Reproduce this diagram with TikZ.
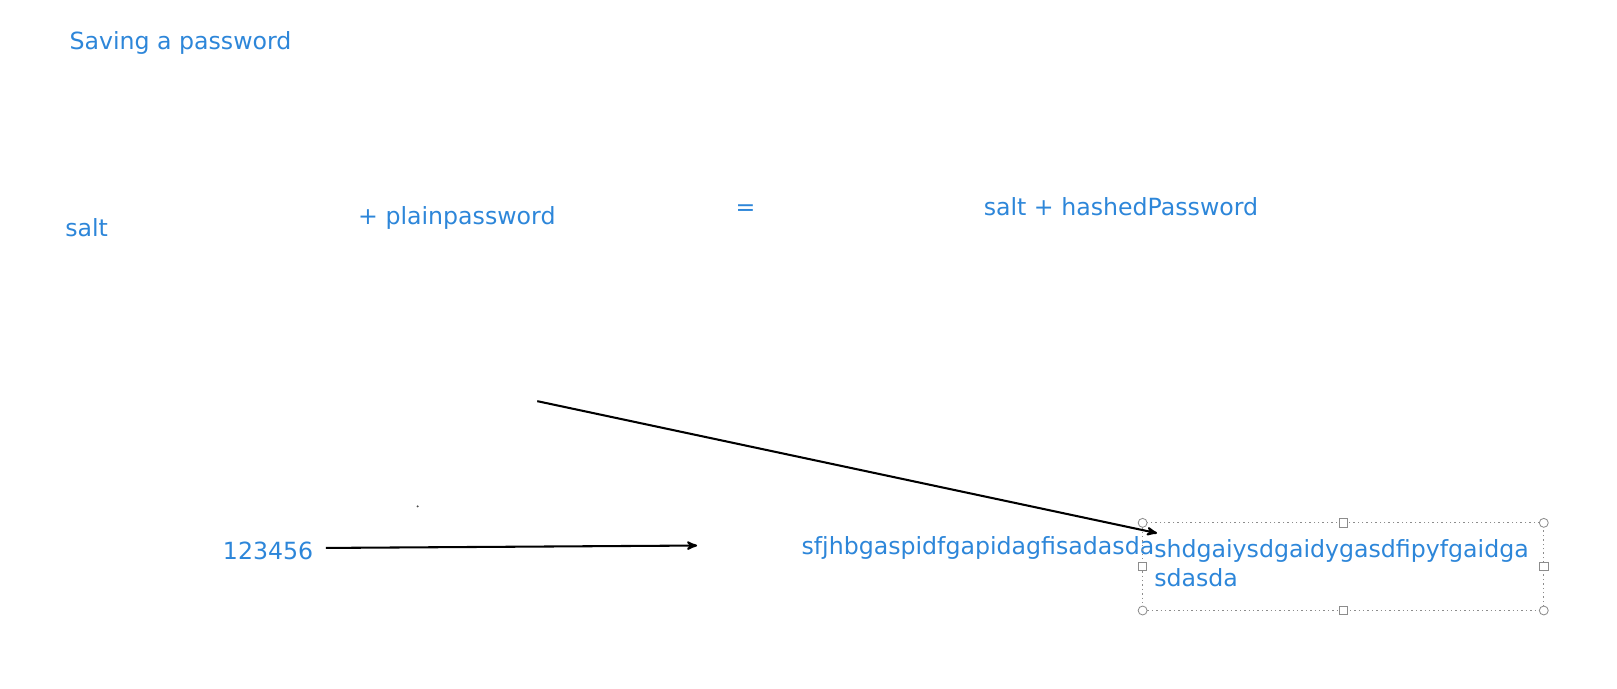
\documentclass[tikz,border=0pt]{standalone}
\usepackage{fontspec}
\setmainfont{DejaVu Sans}
\definecolor{textblue}{RGB}{45,134,217}
\definecolor{handlegray}{RGB}{140,140,140}
\usetikzlibrary{arrows,positioning}

\begin{document}
\begin{tikzpicture}[x=0.75pt,y=-0.75pt,>=stealth',
                    font=\fontsize{17.2}{21}\selectfont]
    \tikzstyle{label}=[text=textblue,inner sep=0pt]
    \tikzstyle{flow}=[->,line width=1.5pt,shorten >=0pt]
    \tikzstyle{handle}=[draw=handlegray,fill=white,line width=0.6pt,inner sep=0pt,minimum size=6.5pt]

    \useasboundingbox (0,0) rectangle (1568,668);

    \node[label] (title) at (175,42) {Saving a password};
    \node[label] (salt) at (84,221) {salt};
    \node[label] (plain) at (443,211) {+ plainpassword};
    \node[label] (equals) at (723,204) {=};
    \node[label] (result) at (1087,200) {salt + hashedPassword};

    \node[label] (pw) at (260,534) {123456};
    \node[label,anchor=west] (saltval) at (777,531) {sfjhbgaspidfgapidagfisadasda};
    \node[label,anchor=west,align=left] (hashval) at (1119,546)
        {shdgaiysdgaidygasdfipyfgaidga\\[0pt]sdasda};

    % selection frame round the hash
    \draw[handlegray,line width=0.8pt,dash pattern=on 1pt off 2.2pt] (1108,507) rectangle (1497,592);
    \foreach \x/\y in {1108/507,1497/507,1108/592,1497/592}
        \node[handle,circle] at (\x,\y) {};
    \foreach \x/\y in {1303/507,1303/592,1108/549,1497/549}
        \node[handle,rectangle,minimum size=6pt] at (\x,\y) {};

    \fill[black!70] (405,491) circle (0.8pt);

    \coordinate (pwend) at (676,529);
    \coordinate (from) at (521,389);
    \coordinate (to) at (1122,517);

    \draw[flow] ([xshift=9pt,yshift=2pt]pw.east) -- (pwend);
    \draw[flow] (from) -- (to);

\end{tikzpicture}
\end{document}
